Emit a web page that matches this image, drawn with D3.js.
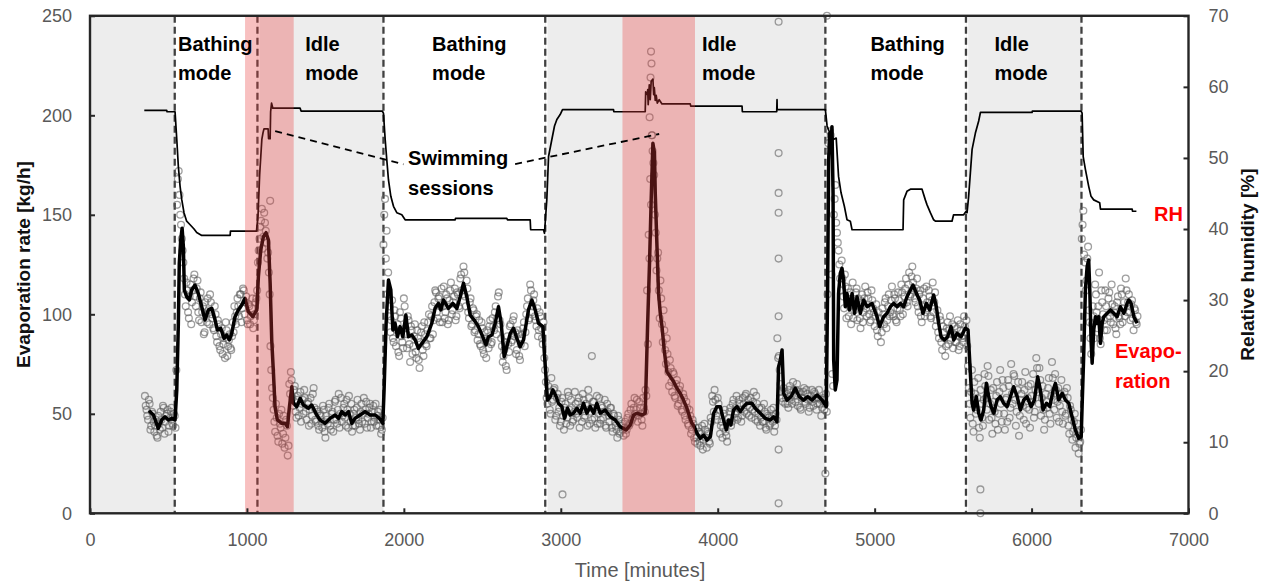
<!DOCTYPE html>
<html><head><meta charset="utf-8">
<script src="https://cdn.jsdelivr.net/npm/d3@7"></script>
<style>body{margin:0;background:#fff} svg{display:block}</style>
</head><body><svg id="c" width="1263" height="583"></svg>
<script>
// ---------------- DATA ----------------
const xTicks = [0,1000,2000,3000,4000,5000,6000,7000];
const yLeftTicks = [0,50,100,150,200,250];
const yRightTicks = [0,10,20,30,40,50,60,70];

// idle periods (grey) and swimming sessions (red), minutes
const idleStart = [0,1067,2901,5582];
const idleEnd   = [540,1870,4686,6318];
const swimStart = [988,3393];
const swimEnd   = [1298,3855];
const modeBoundaries = [540,1067,1870,2901,4686,5582,6318];
const modeNames = ["Bathing","Idle","Bathing","Idle","Bathing","Idle"];

// relative humidity [%]
const rhT = [346,489,491,542,553,563,574,585,599,616,638,663,680,712,893,895,1061,1071,1081,1095,1103,1109,1135,1138,1148,1151,1157,1165,1339,1345,1862,1870,1881,1891,1902,1917,1934,1955,1987,2008,2327,2329,2656,2660,2805,2808,2890,2896,2911,2922,2943,2960,2975,2996,3011,3336,3338,3538,3541,3551,3554,3557,3564,3570,3576,3587,3592,3596,3602,3608,3615,3627,3645,3825,3828,4155,4157,4376,4378,4379,4686,4697,4718,4737,4755,4770,4786,4807,4824,4845,4856,5181,5185,5206,5228,5302,5323,5334,5355,5376,5387,5493,5503,5567,5583,5589,5599,5610,5621,5642,5663,5674,6003,6005,6316,6322,6329,6343,6364,6379,6396,6434,6439,6641,6643,6668];
const rhV = [56.7,56.7,56.5,56.5,52.6,48.8,46,44.1,42.3,41.1,40.6,40,39.5,39.1,39.1,39.7,39.7,42,47.6,52.6,53.6,54.1,54.1,52.7,52.7,56.5,57.7,57,57,56.6,56.6,56.3,52.6,49.8,46.9,44.6,43.2,42.3,42,41.3,41.3,41.5,41.5,41.3,41.3,39.9,39.9,39.4,44.1,50.2,52.6,54.5,55.4,56.1,56.8,56.8,56.5,56.5,59.3,58.9,59.6,57.5,60.3,58.2,60.8,61.1,58.9,59.9,58.1,58.8,57.7,58.2,57.6,57.6,57.3,57.3,56.5,56.5,58.2,56.8,56.8,54.5,53.3,52.6,52.8,47.4,45.1,43.2,41.3,41.1,39.9,39.9,44.1,45.3,45.6,45.6,44.1,43.4,42.3,41.3,41.1,41.1,42,42,42.5,42.3,44.6,47.9,51.2,53.5,55.2,56.4,56.4,56.6,56.6,56.3,50.2,48.4,46,44.6,44.1,43.7,42.8,42.8,42.5,42.5];

// smoothed evaporation rate [kg/h]
const evT = [376,404,435,457,478,499,521,542,553,563,569,578,587,595,601,616,633,648,669,690,712,733,754,776,797,812,833,854,871,888,903,924,945,967,988,1009,1037,1063,1073,1088,1105,1122,1137,1148,1158,1169,1179,1194,1222,1243,1258,1271,1286,1296,1318,1339,1360,1392,1413,1445,1466,1498,1530,1562,1583,1605,1626,1647,1668,1689,1721,1753,1785,1817,1844,1866,1874,1887,1902,1917,1930,1944,1959,1976,1993,2013,2029,2051,2072,2093,2115,2146,2178,2199,2220,2236,2252,2284,2312,2338,2359,2380,2401,2423,2448,2475,2503,2523,2539,2561,2582,2603,2620,2639,2656,2678,2699,2720,2741,2762,2780,2794,2816,2837,2858,2886,2894,2907,2915,2933,2950,2971,2985,3007,3024,3043,3060,3081,3103,3124,3145,3166,3188,3209,3230,3251,3283,3315,3347,3379,3417,3443,3464,3485,3517,3538,3553,3566,3576,3587,3597,3602,3613,3623,3634,3645,3659,3676,3698,3719,3740,3761,3782,3804,3821,3836,3851,3868,3889,3910,3931,3953,3974,3995,4016,4037,4055,4069,4084,4101,4123,4144,4165,4186,4218,4239,4271,4303,4335,4356,4378,4388,4399,4410,4420,4441,4467,4494,4520,4547,4573,4601,4633,4665,4692,4700,4707,4713,4722,4728,4735,4739,4749,4760,4770,4781,4792,4802,4813,4824,4839,4856,4872,4888,4909,4930,4952,4983,5015,5032,5057,5079,5100,5121,5143,5164,5185,5206,5228,5245,5266,5287,5308,5330,5351,5376,5393,5408,5423,5444,5465,5487,5504,5525,5551,5578,5595,5610,5621,5631,5648,5663,5678,5695,5712,5727,5742,5759,5780,5801,5822,5844,5865,5886,5908,5929,5950,5971,5997,6018,6039,6056,6073,6095,6116,6138,6152,6173,6195,6216,6237,6258,6279,6300,6316,6322,6332,6343,6354,6364,6371,6379,6386,6396,6407,6418,6428,6439,6450,6460,6482,6503,6524,6545,6566,6588,6609,6619,6634,6652,6673];
const evV = [51.6,49.4,42.7,46.9,48.5,46.9,47.7,46.9,62,95.5,125.6,137.3,143.2,134,112.2,108.8,107.2,112.2,114.7,110.5,103.8,97.1,102.2,103,97.1,92.1,93,87.9,89.6,87.1,90.4,98.8,102.2,104.7,108,101.3,98.8,102.2,118.9,132.3,139,141,137.3,115.6,87.1,70.4,53.6,46.9,45.2,45.2,43.5,53.6,63.6,55.3,53.6,57.8,54.4,52.8,54.4,49.4,46.9,45.2,47.7,49.4,47.7,51.1,49.4,51.1,45.2,47.7,49.4,51.1,49.4,49.4,47.7,45.2,62,95.5,117.2,112.2,92.1,95.5,88.7,93.8,88.7,99.6,88.7,89.6,87.1,82.9,85.4,88.7,95.5,103,105.5,102.2,107.2,103,105.5,103,108.8,115.6,108.8,99.6,97.1,93.8,88.7,84.6,88.7,89.6,95.5,103.8,95.5,78.7,83.7,90.4,93,87.9,83.7,87.1,95.5,102.2,107.2,102.2,95.5,93.8,82.1,67,56.9,58.6,62,58.6,55.3,53.6,47.7,52.8,49.4,50.3,52.8,50.3,55.3,50.3,53.6,50.3,55.3,50.3,51.9,48.5,46.9,43.5,41.9,44.4,49.4,50.3,49.4,50.3,93.8,127.3,157.4,185.9,180.9,160.8,134,110.5,100.5,93.8,82.1,71.2,68.6,66.1,62.8,60.3,56.9,52.8,48.5,45.2,43.5,40.2,37.7,39.3,36.8,38.5,50.3,53.6,53.6,46.9,41.9,46.9,44.4,51.9,53.6,51.1,53.6,55.3,55.3,52.8,50.3,47.7,46.9,48.5,46,73.7,77,82.1,60.3,56.9,58.6,62.8,58.6,56.9,58.6,56.9,59.4,56.9,53.6,110.5,177.5,190.9,184.2,194.3,160.8,77,62,67,110.5,120.6,123.1,117.2,103.8,110.5,102.2,110.5,100.5,108.8,100.5,107.2,103.8,105.5,98.8,93.8,98.8,100.5,103.8,105.5,103.8,105.5,103.8,108.8,112.2,114.7,110.5,107.2,100.5,105.5,102.2,109.7,103.8,95.5,88.7,87.1,88.7,93.8,87.1,90.4,88.7,93,92.1,70.4,55.3,51.9,58.6,50.3,46.9,51.9,65.3,58.6,53.6,50.3,56.9,58.6,55.3,53.6,58.6,63.6,58.6,51.9,56.9,58.6,53.6,56.9,68.6,62,51.9,55.3,53.6,62,65.3,56.9,60.3,56.9,55.3,48.5,41.9,37.7,38.5,53.6,78.7,112.2,123.9,127.3,112.2,87.1,75.4,92.1,98.8,95.5,98.8,85.4,95.5,98.8,100.5,102.2,100.5,98.8,103.8,100.5,105.5,107.2,105.5,98.8,95.5];

// measured evaporation rate [kg/h], one reading every 10 minutes from each start time
const scatterStarts = [350,550,1070,1870,2900,3400,3860,4700,5590,6320];
const scatter1 = [59,52,47,55,44,50,41,47,38,45,51,43,53,46,50,41,48,53,44,49];
const scatter2 = [72,168,160,145,132,118,104,112,98,115,106,118,109,113,101,108,96,104,91,100,108,95,106,98,92,100,86,95,82,93,85,78,92,84,90,82,96,104,95,108,99,110,103,112,106,97,105,95,103,93,100,108];
const scatter3 = [126,138,147,133,151,142,128,121,84,63,52,41,48,36,45,52,40,33,47,29,65,71,58,62,51,57,49,61,55,50,58,47,56,52,45,60,53,46,51,42,49,43,52,38,47,53,44,50,41,56,47,52,43,58,49,55,44,52,59,46,41,50,44,53,47,42,55,50,45,56,48,53,43,51,46,55,49,44,52,42];
const scatter4 = [135,158,142,121,104,97,88,102,84,95,79,98,86,108,93,83,97,76,92,84,95,78,88,73,91,82,96,85,92,100,88,104,97,112,101,108,96,113,104,98,110,95,107,116,102,109,97,111,104,118,112,124,109,117,101,106,94,103,91,99,87,97,84,93,80,88,92,83,97,86,94,101,90,109,97,88,76,82,74,89,81,95,87,99,91,82,90,77,88,93,84,100,108,98,112,104,110,97,103,92,99,88,96];
const scatter5 = [72,58,64,52,68,57,63,49,60,53,46,58,42,55,48,59,44,53,47,61,50,56,43,52,60,48,55,44,58,51,47,56,43,59,50,45,54,48,57,43,51,46,53,41,49,44,38,47,41,45];
const scatter6 = [39,46,42,50,45,55,48,58,52,46,56,50,44,53,62,112,140,168,190,176,150,122,131,98,108,86,92,75,80,64,73,61,70,58,67,55,64,52,60,49,56,45,52,40,47,38];
const scatter7 = [43,35,41,34,44,37,42,33,40,35,46,56,62,49,58,52,44,38,50,41,36,48,53,46,57,50,59,48,55,46,58,51,60,54,49,58,52,61,47,55,50,44,53,46,51,42,49,44,52,46,41,50,88,79,65,58,63,55,60,53,64,57,66,59,62,54,61,52,58,63,55,60,51,57,62,54,60,52,58,55,49,57,52,60];
const scatter8 = [110,182,190,70,150,165,141,132,118,127,109,120,98,113,104,95,116,102,111,97,106,93,110,101,114,99,108,96,112,103,94,105,89,98,86,103,95,108,97,110,101,114,99,108,96,111,102,115,100,109,118,104,121,110,124,112,106,118,101,112,96,108,99,114,103,109,98,116,106,94,102,88,97,82,91,79,93,85,99,90,83,94,86,97,84,92,88,99,91];
const scatter9 = [84,63,48,72,41,60,52,68,38,55,44,70,58,74,47,62,40,56,45,66,50,72,46,63,42,58,67,48,75,55,69,44,62,39,57,66,47,71,53,64,43,59,70,51,78,61,73,49,64,42,60,53,68,45,76,57,70,48,63,54,67,45,61,50,58,40,52,37,46,33,41,30,36];
const scatter10 = [138,152,126,117,134,96,80,104,88,110,93,121,85,106,97,112,92,108,99,115,95,104,90,109,98,113,96,106,118,101,110,97,107,92,102,95];

// second reading set, 5 minutes later than the first
const scatterStartsB = [355,555,1075,1875,2905,3405,3865,4705,5595,6325];
const scatter1b = [54,49,57,42,51,46,44,39,49,42,47,54,40,49,52,44,51,45,50,43];
const scatter2b = [155,172,150,138,126,110,116,101,109,95,112,120,104,117,97,111,101,90,106,96,102,110,100,93,104,89,97,84,90,80,88,96,79,87,83,89,91,99,101,104,110,96,113,100,109,95,104,99,108,97,106,112];
const scatter3b = [132,144,153,139,146,136,131,110,72,58,46,55,39,50,43,35,49,38,44,34,60,67,54,64,48,59,53,46,57,62,51,55,44,58,49,63,47,52,44,50,46,54,41,49,45,55,42,51,47,57,45,60,50,46,53,48,57,43,50,55,44,52,48,57,45,51,46,58,52,43,50,55,46,54,48,44,51,47,40,48];
const scatter4b = [150,128,110,99,91,107,86,99,92,81,101,89,83,104,90,99,85,94,80,89,81,92,77,86,94,79,90,84,96,88,99,90,106,111,98,109,104,96,114,101,108,97,112,100,106,113,99,110,103,120,110,121,104,113,98,108,95,102,92,100,90,85,96,82,91,78,87,94,85,98,92,104,98,111,95,84,79,86,72,85,94,86,97,89,80,92,79,85,90,96,91,104,97,115,101,107,99,94,89,101,93,85,78];
const scatter5b = [66,55,61,50,56,62,47,58,51,44,56,49,53,45,61,52,57,46,51,55,48,58,53,46,57,49,54,62,45,53,56,48,52,45,58,47,53,51,44,55,49,53,43,50,46,42,49,40,44,42];
const scatter6b = [43,40,48,44,52,47,53,50,57,49,53,47,58,51,59,85,128,155,182,170,141,128,112,117,95,102,82,88,71,77,66,71,59,65,54,62,57,51,58,47,53,44,49,42,45,36];
const scatter7b = [38,43,36,40,32,45,38,41,36,48,59,51,57,47,55,40,46,43,52,39,45,51,44,55,48,53,47,57,52,49,55,59,50,57,53,48,56,51,59,46,53,48,46,55,43,50,48,45,49,53,44,47,78,72,61,56,61,58,55,62,59,55,62,56,65,60,53,58,61,56,62,57,53,59,56,61,58,55,62,57,53,58,55,51];
const scatter8b = [186,192,120,64,158,146,136,125,112,118,103,114,108,99,111,107,98,104,113,108,98,104,96,108,103,111,100,97,107,101,99,92,101,95,91,100,106,93,104,99,107,100,110,97,103,107,99,111,105,113,106,115,109,119,116,108,113,104,110,99,104,113,101,106,112,99,107,101,111,97,91,99,86,94,88,84,96,92,87,95,90,86,93,82,95,89,86,94,97];
const scatter9b = [74,55,61,45,66,50,58,43,62,48,57,64,52,69,55,48,63,51,59,42,61,55,67,50,57,46,64,53,60,70,57,51,66,49,60,54,62,45,58,52,65,56,48,62,73,55,67,58,52,47,56,63,50,59,68,52,62,56,46,60,51,58,49,63,44,54,47,41,50,38,45,35,42];
const scatter10b = [145,130,112,128,102,88,95,99,115,101,104,88,112,100,92,104,98,111,96,105,101,93,106,99,95,110,103,99,112,106,101,105,98,103,96,99];

const scatterSegments = [scatter1,scatter2,scatter3,scatter4,scatter5,scatter6,scatter7,scatter8,scatter9,scatter10];
const scatterSegmentsB = [scatter1b,scatter2b,scatter3b,scatter4b,scatter5b,scatter6b,scatter7b,scatter8b,scatter9b,scatter10b];
const outlierT = [1148,3011,3198,3566,3572,3575,3578,3582,4388,4388,4388,4388,4388,4388,4388,4388,4686,4696,5674,5674];
const outlierV = [157,9.5,79,199,219,232,226,190,247,181,161,151,128,99,32,5,20,250,12,0];

// ---------------- DRAWING ----------------
const FONT = "'Liberation Sans', Arial, sans-serif";
const svg = d3.select('#c');
const L = 90, R = 1188.5, T = 15.8, B = 513.3;
const x = d3.scaleLinear().domain([0,7000]).range([L,R]);
const yL = d3.scaleLinear().domain([0,250]).range([B,T]);
const yR = d3.scaleLinear().domain([0,70]).range([B,T]);

// grey idle shading
svg.append('g').selectAll('rect').data(d3.zip(idleStart, idleEnd)).join('rect')
  .attr('x', d => x(d[0])).attr('width', d => x(d[1]) - x(d[0]))
  .attr('y', T).attr('height', B - T).attr('fill', '#ededed');

// mode boundaries
const gb = svg.append('g');
gb.selectAll('line.w').data(modeBoundaries).join('line').attr('class','w')
  .attr('x1', d => x(d)+1.5).attr('x2', d => x(d)+1.5).attr('y1', T).attr('y2', B)
  .attr('stroke', '#fff').attr('stroke-width', 1.5);
gb.selectAll('line.d').data(modeBoundaries).join('line').attr('class','d')
  .attr('x1', d => x(d)).attr('x2', d => x(d)).attr('y1', T).attr('y2', B)
  .attr('stroke', '#404040').attr('stroke-width', 2.3).attr('stroke-dasharray', '7,4');

// scatter
const pts = [];
scatterSegments.forEach((seg, i) => seg.forEach((v, j) => pts.push([scatterStarts[i] + j*10, v])));
scatterSegmentsB.forEach((seg, i) => seg.forEach((v, j) => pts.push([scatterStartsB[i] + j*10, v])));
d3.zip(outlierT, outlierV).forEach(p => pts.push(p));
svg.append('g').selectAll('circle').data(pts).join('circle')
  .attr('cx', d => x(d[0])).attr('cy', d => yL(d[1])).attr('r', 3.4)
  .attr('fill', 'none').attr('stroke', 'rgba(95,95,95,0.6)').attr('stroke-width', 1.3);

// lines
svg.append('path').datum(d3.zip(rhT, rhV))
  .attr('d', d3.line().x(d => x(d[0])).y(d => yR(d[1])))
  .attr('fill', 'none').attr('stroke', '#000').attr('stroke-width', 1.7).attr('stroke-linejoin','round');
svg.append('path').datum(d3.zip(evT, evV))
  .attr('d', d3.line().x(d => x(d[0])).y(d => yL(d[1])))
  .attr('fill', 'none').attr('stroke', '#000').attr('stroke-width', 3.5).attr('stroke-linejoin','round');

// swimming sessions (translucent red over everything)
svg.append('g').selectAll('rect').data(d3.zip(swimStart, swimEnd)).join('rect')
  .attr('x', d => x(d[0])).attr('width', d => x(d[1]) - x(d[0]))
  .attr('y', T).attr('height', B - T).attr('fill', 'rgb(232,60,60)').attr('fill-opacity', 0.32);

// frame
svg.append('rect').attr('x', L).attr('y', T).attr('width', R-L).attr('height', B-T)
  .attr('fill','none').attr('stroke','#262626').attr('stroke-width',2.4);

// axes
function styleAxis(g){
  g.select('.domain').remove();
  g.selectAll('.tick line').attr('stroke','#262626').attr('stroke-width',2);
  g.selectAll('.tick text').attr('fill','#595959').style('font-family',FONT).style('font-size','18px');
}
svg.append('g').attr('transform',`translate(0,${B})`)
  .call(d3.axisBottom(x).tickValues(xTicks).tickSize(-5).tickPadding(20).tickFormat(d3.format('d'))).call(styleAxis);
svg.append('g').attr('transform',`translate(${L},0)`)
  .call(d3.axisLeft(yL).tickValues(yLeftTicks).tickSize(-5).tickPadding(18)).call(styleAxis);
svg.append('g').attr('transform',`translate(${R},0)`)
  .call(d3.axisRight(yR).tickValues(yRightTicks).tickSize(-5).tickPadding(20)).call(styleAxis);

// axis titles
svg.append('text').attr('x', 640).attr('y', 577).attr('text-anchor','middle')
  .style('font-family',FONT).style('font-size','20px').attr('fill','#595959').text('Time [minutes]');
svg.append('text').attr('transform',`translate(23,${(T+B)/2}) rotate(-90)`).attr('text-anchor','middle')
  .attr('dominant-baseline','central').style('font-family',FONT).style('font-size','19px').style('font-weight','bold')
  .attr('fill','#111').text('Evaporation rate [kg/h]');
svg.append('text').attr('transform',`translate(1247,${(T+B)/2}) rotate(-90)`).attr('text-anchor','middle')
  .attr('dominant-baseline','central').style('font-family',FONT).style('font-size','19px').style('font-weight','bold')
  .attr('fill','#111').text('Relative humidity [%]');

// mode labels (left edge in minutes)
const labelX = [561,1371,2180,3900,4973,5763];
modeNames.forEach((name, i) => {
  const t = svg.append('text').attr('x', x(labelX[i])).style('font-family',FONT)
    .style('font-size','20px').style('font-weight','bold').attr('fill','#000');
  t.append('tspan').attr('x', x(labelX[i])).attr('y', 51).text(name);
  t.append('tspan').attr('x', x(labelX[i])).attr('y', 80).text('mode');
});

// swimming sessions annotation
const lead = svg.append('g').attr('stroke','#000').attr('stroke-width',1.8).attr('stroke-dasharray','7,5');
lead.append('line').attr('x1', x(1180)).attr('y1', yL(192)).attr('x2', x(1997)).attr('y2', yL(175.4));
lead.append('line').attr('x1', x(2709)).attr('y1', yL(175.5)).attr('x2', x(3627)).attr('y2', yL(190.6));
const sw = svg.append('text').style('font-family',FONT).style('font-size','20px').style('font-weight','bold').attr('fill','#000');
sw.append('tspan').attr('x', x(2027)).attr('y', 165).text('Swimming');
sw.append('tspan').attr('x', x(2027)).attr('y', 195).text('sessions');

// series labels
const red = '#ff0000';
svg.append('text').attr('x', 1154).attr('y', 220.5).style('font-family',FONT).style('font-size','20px')
  .style('font-weight','bold').attr('fill',red).text('RH');
const ev = svg.append('text').style('font-family',FONT).style('font-size','20px').style('font-weight','bold').attr('fill',red);
ev.append('tspan').attr('x',1115).attr('y',358).text('Evapo-');
ev.append('tspan').attr('x',1115).attr('y',388).text('ration');
</script></body></html>
